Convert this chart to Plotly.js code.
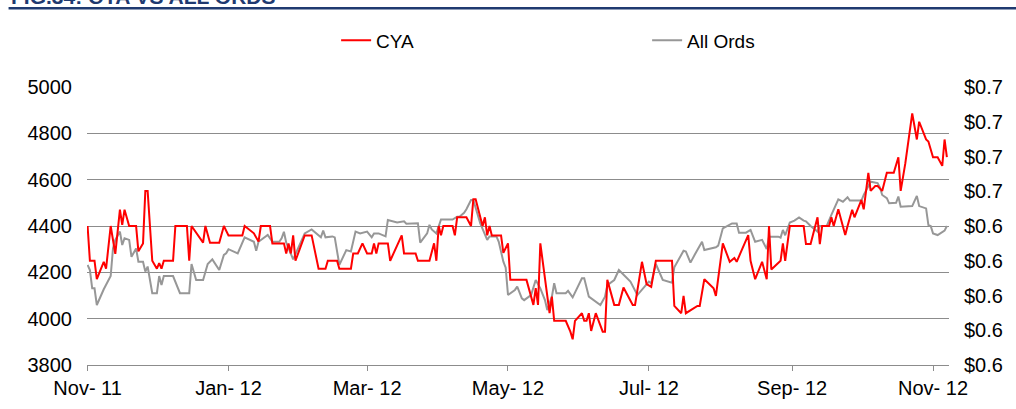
<!DOCTYPE html>
<html>
<head>
<meta charset="utf-8">
<script src="https://cdn.plot.ly/plotly-3.0.1.min.js"></script>
<style>
  html, body { margin: 0; padding: 0; background: #ffffff; }
  #chart { width: 1016px; height: 409px; }
</style>
</head>
<body>
<div id="chart"></div>
<script>
// ---- Data ----
const cyaDates = [
  "2011-11-01","2011-11-02","2011-11-04","2011-11-05","2011-11-08","2011-11-09","2011-11-11","2011-11-13",
  "2011-11-15","2011-11-16","2011-11-17","2011-11-19","2011-11-22","2011-11-23","2011-11-25","2011-11-26",
  "2011-11-27","2011-11-29","2011-12-01","2011-12-02","2011-12-03","2011-12-04","2011-12-08","2011-12-09",
  "2011-12-14","2011-12-15","2011-12-16","2011-12-21","2011-12-22","2011-12-24","2011-12-28","2011-12-30",
  "2012-01-01","2012-01-07","2012-01-08","2012-01-12","2012-01-14","2012-01-15","2012-01-19","2012-01-20",
  "2012-01-25","2012-01-26","2012-01-27","2012-01-28","2012-01-29","2012-01-30","2012-02-03","2012-02-06",
  "2012-02-09","2012-02-12","2012-02-13","2012-02-17","2012-02-18","2012-02-23","2012-02-24","2012-02-26",
  "2012-02-28","2012-03-01","2012-03-03","2012-03-04","2012-03-05","2012-03-06","2012-03-10","2012-03-11",
  "2012-03-16","2012-03-17","2012-03-22","2012-03-23","2012-03-28","2012-03-30","2012-03-31","2012-04-01",
  "2012-04-02","2012-04-03","2012-04-07","2012-04-08","2012-04-09","2012-04-13","2012-04-15","2012-04-16",
  "2012-04-17","2012-04-20","2012-04-21","2012-04-22","2012-04-23","2012-04-24","2012-04-28","2012-04-29",
  "2012-05-01","2012-05-02","2012-05-09","2012-05-12","2012-05-13","2012-05-14","2012-05-15","2012-05-19",
  "2012-05-20","2012-05-21","2012-05-26","2012-05-28","2012-05-29","2012-05-30","2012-06-02","2012-06-03",
  "2012-06-04","2012-06-05","2012-06-06","2012-06-08","2012-06-11","2012-06-12","2012-06-13","2012-06-16",
  "2012-06-18","2012-06-20","2012-06-24","2012-06-25","2012-06-28","2012-06-30","2012-07-02","2012-07-04",
  "2012-07-11","2012-07-12","2012-07-15","2012-07-16","2012-07-17","2012-07-22","2012-07-23","2012-07-25",
  "2012-07-29","2012-07-30","2012-08-02","2012-08-05","2012-08-07","2012-08-08","2012-08-13","2012-08-14",
  "2012-08-16","2012-08-19","2012-08-21","2012-08-22","2012-08-23","2012-08-27","2012-08-28","2012-08-29",
  "2012-08-31","2012-09-06","2012-09-07","2012-09-09","2012-09-12","2012-09-13","2012-09-14","2012-09-17",
  "2012-09-18","2012-09-19","2012-09-21","2012-09-24","2012-09-25","2012-09-27","2012-09-28","2012-10-01",
  "2012-10-02","2012-10-04","2012-10-05","2012-10-07","2012-10-08","2012-10-10","2012-10-12","2012-10-15",
  "2012-10-17","2012-10-18","2012-10-20","2012-10-23","2012-10-25","2012-10-26","2012-10-29","2012-10-30",
  "2012-11-01","2012-11-03","2012-11-05","2012-11-06","2012-11-07"
];
const cyaPrice = [
  0.640,0.630,0.630,0.6247,0.6297,0.6277,0.640,0.632,
  0.6447,0.6403,0.6447,0.640,0.640,0.6327,0.635,0.6501,
  0.6501,0.630,0.6277,0.6293,0.6277,0.630,0.630,0.640,
  0.640,0.630,0.640,0.6352,0.640,0.6352,0.6352,0.640,
  0.6373,0.6373,0.640,0.6379,0.6355,0.640,0.640,0.635,
  0.635,0.6321,0.635,0.6321,0.6373,0.630,0.6373,0.6373,
  0.6277,0.6277,0.630,0.630,0.6277,0.6277,0.6321,0.6321,
  0.635,0.6321,0.6321,0.635,0.6321,0.635,0.635,0.630,
  0.6373,0.6321,0.6321,0.630,0.630,0.635,0.630,0.640,
  0.6373,0.640,0.640,0.6373,0.6425,0.6425,0.640,0.6477,
  0.6477,0.640,0.6425,0.6373,0.640,0.6373,0.6373,0.6323,
  0.635,0.6245,0.6245,0.6173,0.6221,0.6173,0.635,0.6149,
  0.6197,0.6127,0.6127,0.6096,0.6074,0.6127,0.6149,0.6127,
  0.6127,0.6149,0.6098,0.6149,0.6096,0.6096,0.6245,0.6173,
  0.6173,0.6223,0.6173,0.6173,0.6297,0.6233,0.6225,0.630,
  0.630,0.617,0.6149,0.6199,0.6149,0.617,0.617,0.6247,
  0.6221,0.6199,0.635,0.6297,0.6308,0.6297,0.6374,0.630,
  0.6247,0.6297,0.6247,0.640,0.6275,0.630,0.635,0.630,
  0.640,0.640,0.6348,0.6348,0.6425,0.6348,0.640,0.640,
  0.6425,0.640,0.6448,0.6374,0.640,0.6447,0.6425,0.6475,
  0.6448,0.6553,0.6501,0.6515,0.6515,0.6501,0.6553,0.6553,
  0.6598,0.6501,0.658,0.6724,0.6649,0.670,0.6649,0.6643,
  0.6598,0.6598,0.6573,0.6649,0.6598
];

const ordsDates = [
  "2011-11-01","2011-11-02","2011-11-03","2011-11-04","2011-11-05","2011-11-08","2011-11-11","2011-11-12",
  "2011-11-13","2011-11-15","2011-11-16","2011-11-17","2011-11-19","2011-11-20","2011-11-22","2011-11-23",
  "2011-11-25","2011-11-26","2011-11-27","2011-11-29","2011-12-01","2011-12-02","2011-12-03","2011-12-04",
  "2011-12-08","2011-12-11","2011-12-15","2011-12-16","2011-12-18","2011-12-21","2011-12-23","2011-12-25",
  "2011-12-28","2011-12-30","2011-12-31","2012-01-01","2012-01-05","2012-01-07","2012-01-08","2012-01-12",
  "2012-01-13","2012-01-14","2012-01-18","2012-01-20","2012-01-23","2012-01-24","2012-01-25","2012-01-26",
  "2012-01-29","2012-02-03","2012-02-06","2012-02-10","2012-02-11","2012-02-12","2012-02-15","2012-02-16",
  "2012-02-18","2012-02-21","2012-02-23","2012-02-25","2012-02-27","2012-03-01","2012-03-03","2012-03-04",
  "2012-03-06","2012-03-09","2012-03-10","2012-03-14","2012-03-17","2012-03-18","2012-03-23","2012-03-24",
  "2012-03-27","2012-03-28","2012-03-29","2012-03-31","2012-04-02","2012-04-05","2012-04-07","2012-04-09",
  "2012-04-10","2012-04-12","2012-04-13","2012-04-15","2012-04-16","2012-04-19","2012-04-20","2012-04-22",
  "2012-04-23","2012-04-26","2012-04-27","2012-04-29","2012-04-30","2012-05-01","2012-05-04","2012-05-05",
  "2012-05-07","2012-05-08","2012-05-11","2012-05-13","2012-05-15","2012-05-17","2012-05-18","2012-05-20",
  "2012-05-21","2012-05-22","2012-05-26","2012-05-27","2012-05-29","2012-06-02","2012-06-03","2012-06-05",
  "2012-06-10","2012-06-12","2012-06-13","2012-06-16","2012-06-18","2012-06-23","2012-06-26","2012-06-29",
  "2012-07-01","2012-07-02","2012-07-04","2012-07-07","2012-07-09","2012-07-11","2012-07-12","2012-07-13",
  "2012-07-15","2012-07-16","2012-07-17","2012-07-19","2012-07-21","2012-07-24","2012-07-25","2012-07-30",
  "2012-07-31","2012-08-02","2012-08-06","2012-08-08","2012-08-09","2012-08-12","2012-08-14","2012-08-16",
  "2012-08-19","2012-08-21","2012-08-22","2012-08-26","2012-08-27","2012-08-28","2012-08-29","2012-08-31",
  "2012-09-02","2012-09-04","2012-09-06","2012-09-07","2012-09-09","2012-09-12","2012-09-13","2012-09-16",
  "2012-09-18","2012-09-19","2012-09-21","2012-09-23","2012-09-25","2012-09-26","2012-10-01","2012-10-02",
  "2012-10-04","2012-10-05","2012-10-08","2012-10-09","2012-10-10","2012-10-12","2012-10-13","2012-10-16",
  "2012-10-17","2012-10-18","2012-10-23","2012-10-25","2012-10-26","2012-10-29","2012-10-30","2012-10-31",
  "2012-11-01","2012-11-03","2012-11-06","2012-11-07"
];
const ordsIndex = [
  4232,4210,4131,4131,4059,4127,4184,4303,
  4340,4376,4318,4347,4340,4267,4303,4246,
  4246,4203,4225,4110,4110,4184,4145,4184,
  4184,4110,4110,4236,4167,4167,4236,4256,
  4210,4275,4282,4300,4282,4328,4351,4332,
  4293,4332,4361,4332,4332,4347,4375,4328,
  4256,4368,4385,4351,4380,4351,4355,4351,
  4232,4296,4290,4376,4368,4376,4351,4368,
  4368,4355,4426,4415,4420,4410,4412,4328,
  4368,4405,4385,4368,4428,4428,4428,4440,
  4440,4457,4472,4512,4512,4411,4388,4340,
  4355,4355,4332,4246,4220,4102,4124,4138,
  4088,4080,4102,4167,4131,4080,4037,4095,
  4153,4110,4110,4120,4092,4174,4174,4095,
  4059,4095,4145,4167,4210,4160,4102,4135,
  4160,4153,4236,4167,4160,4155,4222,4239,
  4270,4293,4290,4242,4279,4332,4296,4308,
  4315,4390,4411,4411,4371,4371,4383,4332,
  4340,4300,4354,4354,4350,4383,4360,4415,
  4423,4437,4423,4420,4400,4376,4400,4400,
  4448,4469,4515,4505,4524,4510,4510,4534,
  4577,4591,4585,4567,4534,4520,4498,4500,
  4527,4483,4486,4530,4486,4476,4404,4400,
  4368,4361,4380,4400
];

const seriesNames = ["CYA", "All Ords"];
const ordsTickVals = [3800, 4000, 4200, 4400, 4600, 4800, 5000];
const cyaTickVals = [0.60, 0.61, 0.62, 0.63, 0.64, 0.65, 0.66, 0.67, 0.68];
const cyaTickText = ["$0.6","$0.6","$0.6","$0.6","$0.6","$0.7","$0.7","$0.7","$0.7"];
const chartTitle = "FIG.34: CYA VS ALL ORDS";

// ---- Chart ----
const FONT = "Liberation Sans, Arial, Helvetica, sans-serif";
const traces = [
  {
    x: cyaDates, y: cyaPrice, name: seriesNames[0], type: "scatter", mode: "lines",
    yaxis: "y2", line: { color: "#FF0000", width: 2 }, hoverinfo: "skip"
  },
  {
    x: ordsDates, y: ordsIndex, name: seriesNames[1], type: "scatter", mode: "lines",
    yaxis: "y", line: { color: "#979797", width: 2 }, hoverinfo: "skip"
  }
];
// draw red on top
const data = [traces[1], traces[0]];

const layout = {
  width: 1016, height: 409,
  margin: { l: 87, r: 67, t: 87, b: 44, pad: 0 },
  paper_bgcolor: "#ffffff", plot_bgcolor: "#ffffff",
  font: { family: FONT, size: 20, color: "#000000" },
  showlegend: true,
  legend: {
    orientation: "h", x: 0.289, xanchor: "left", y: 1.168, yanchor: "middle",
    font: { family: FONT, size: 19, color: "#000000" },
    traceorder: "reversed", entrywidth: 266, entrywidthmode: "pixels",
    bgcolor: "rgba(0,0,0,0)", itemclick: false
  },
  xaxis: {
    type: "date",
    range: ["2011-10-31 18:00", "2012-11-07 22:00"],
    tick0: "2011-11-01", dtick: "M2", tickformat: "%b- %y",
    ticks: "outside", ticklen: 5, tickwidth: 1, tickcolor: "#8c8c8c",
    showline: true, linecolor: "#8c8c8c", linewidth: 1,
    showgrid: false, zeroline: false,
    tickfont: { family: FONT, size: 20, color: "#000000" },
    ticklabelstandoff: 0
  },
  yaxis: {
    range: [3800, 5000], tickvals: ordsTickVals,
    showgrid: true, gridcolor: "#8c8c8c", gridwidth: 1,
    zeroline: false, showline: false, ticks: "",
    tickfont: { family: FONT, size: 20, color: "#000000" },
    ticklabelstandoff: 14
  },
  yaxis2: {
    overlaying: "y", side: "right", anchor: "x",
    range: [0.60, 0.68], tickvals: cyaTickVals, ticktext: cyaTickText,
    showgrid: false, zeroline: false, showline: false, ticks: "",
    tickfont: { family: FONT, size: 20, color: "#000000" },
    ticklabelstandoff: 14
  },
  shapes: [
    { type: "line", xref: "paper", yref: "paper",
      x0: -0.091, x1: 1.1, y0: 1.283, y1: 1.283,
      line: { color: "#1F3A70", width: 2.5 } }
  ],
  annotations: [
    { text: "<b>" + chartTitle + "</b>", xref: "paper", yref: "paper",
      x: -0.091, xanchor: "left", y: 1.2775, yanchor: "bottom",
      showarrow: false, font: { family: FONT, size: 21, color: "#1F3A70" } }
  ]
};

Plotly.newPlot("chart", data, layout, { displayModeBar: false, staticPlot: true });
</script>
</body>
</html>
